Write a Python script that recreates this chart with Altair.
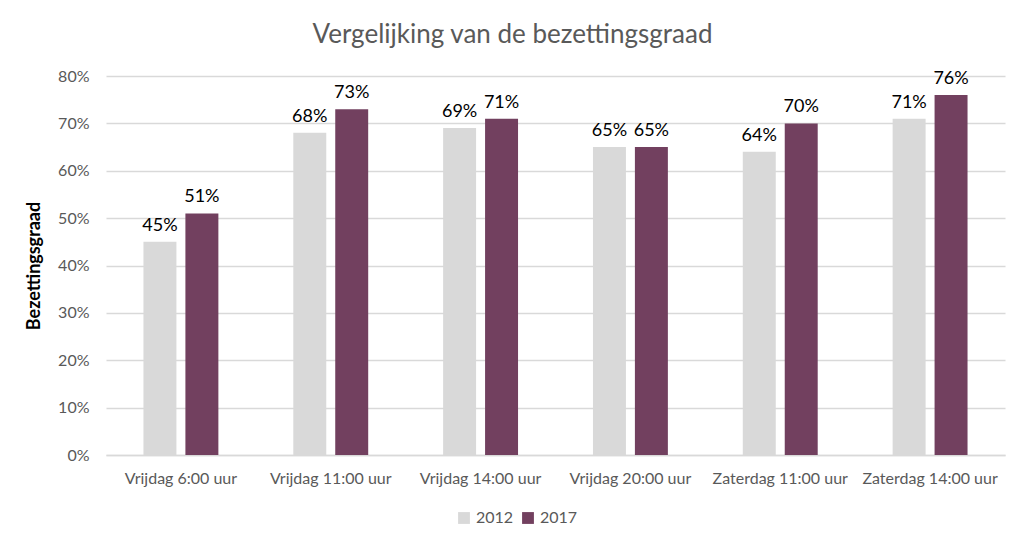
import altair as alt
import pandas as pd

categories = ["Vrijdag 6:00 uur", "Vrijdag 11:00 uur", "Vrijdag 14:00 uur",
              "Vrijdag 20:00 uur", "Zaterdag 11:00 uur", "Zaterdag 14:00 uur"]
years = ["2012", "2017"]
values_2012 = [0.45, 0.68, 0.69, 0.65, 0.64, 0.71]
values_2017 = [0.51, 0.73, 0.71, 0.65, 0.70, 0.76]
colors = ["#D9D9D9", "#72405F"]

rows = []
for c, a, b in zip(categories, values_2012, values_2017):
    rows.append({"cat": c, "jaar": "2012", "v": a})
    rows.append({"cat": c, "jaar": "2017", "v": b})
df = pd.DataFrame(rows)

FONT = "Lato"

x = alt.X("cat:N", sort=categories, title=None,
          scale=alt.Scale(paddingInner=0.5, paddingOuter=0.25),
          axis=alt.Axis(labelAngle=0, labelFontSize=16, labelColor="#595959",
                        labelFont=FONT, ticks=False, domainColor="#D9D9D9",
                        labelPadding=15, domainWidth=1.5))
xo = alt.XOffset("jaar:N", sort=years, scale=alt.Scale(paddingInner=0.214, paddingOuter=0))
y = alt.Y("v:Q", title="Bezettingsgraad",
          scale=alt.Scale(domain=[0, 0.8], nice=False),
          axis=alt.Axis(format=".0%", values=[0, .1, .2, .3, .4, .5, .6, .7, .8],
                        labelFontSize=16, labelColor="#595959", labelFont=FONT,
                        ticks=False, domain=False, gridColor="#D9D9D9", gridWidth=1.5,
                        labelPadding=17, titleFont=FONT, titleFontSize=18,
                        titleFontWeight="bold", titleColor="#000000", titlePadding=14))

bars = alt.Chart(df).mark_bar().encode(
    x=x, xOffset=xo, y=y,
    color=alt.Color("jaar:N", sort=years,
                    scale=alt.Scale(domain=years, range=colors),
                    legend=alt.Legend(title=None, orient="none", direction="horizontal",
                                      legendX=350, legendY=434, symbolType="square",
                                      symbolSize=140, symbolStrokeWidth=0,
                                      labelFontSize=16, labelColor="#595959",
                                      labelFont=FONT, columnPadding=6, labelOffset=4)),
)

labels = alt.Chart(df).mark_text(baseline="bottom", dy=-7, fontSize=18,
                                 font=FONT, color="#000000").encode(
    x=alt.X("cat:N", sort=categories, title=None),
    xOffset=alt.XOffset("jaar:N", sort=years),
    y="v:Q",
    text=alt.Text("v:Q", format=".0%"),
)

chart = alt.layer(bars, labels).properties(
    width=899, height=379,
    title=alt.Title("Vergelijking van de bezettingsgraad", fontSize=26,
                    font=FONT, fontWeight="normal", color="#595959",
                    anchor="middle", offset=20, dx=-43),
    padding={"left": 98, "top": 68, "right": 10, "bottom": 86},
    autosize=alt.AutoSizeParams(type="none"),
).configure_view(stroke=None)

chart.save("out.html", embed_options={"renderer": "svg", "actions": False})
